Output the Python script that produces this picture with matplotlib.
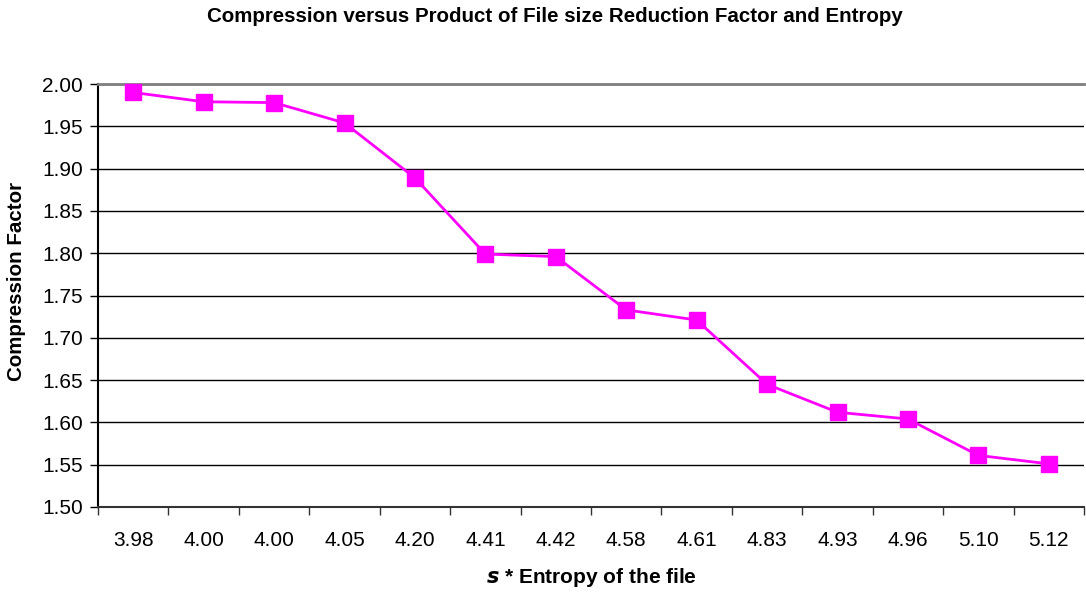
import matplotlib
matplotlib.use("Agg")
import matplotlib.pyplot as plt
from matplotlib.ticker import FixedLocator, FormatStrFormatter

plt.rcParams['font.family'] = ['Liberation Sans', 'DejaVu Sans']

# s * entropy of each file (category labels) and the measured compression factor
entropy_labels = ["3.98", "4.00", "4.00", "4.05", "4.20", "4.41", "4.42",
                  "4.58", "4.61", "4.83", "4.93", "4.96", "5.10", "5.12"]
compression = [1.990, 1.979, 1.978, 1.954, 1.889, 1.799, 1.796,
               1.733, 1.721, 1.645, 1.612, 1.604, 1.561, 1.551]

y_ticks = [1.50, 1.55, 1.60, 1.65, 1.70, 1.75, 1.80, 1.85, 1.90, 1.95, 2.00]

fig = plt.figure(figsize=(10.86, 5.94), dpi=100)
ax = fig.add_axes([98 / 1086, 1 - 507 / 594, (1084 - 98) / 1086, (507 - 84) / 594])

x = list(range(len(compression)))
ax.plot(x, compression, color="#FF00FF", lw=2, marker="s", markersize=11,
        markerfacecolor="#FF00FF", markeredgecolor="#FF00FF", zorder=3, clip_on=False)

ax.set_xlim(-0.5, len(x) - 0.5)
ax.set_ylim(1.50, 2.00)

# horizontal gridlines
ax.set_yticks(y_ticks)
ax.yaxis.set_major_formatter(FormatStrFormatter("%.2f"))
ax.grid(axis="y", color="black", lw=1)
ax.set_axisbelow(True)

# category labels centred, tick marks between categories
ax.set_xticks(x)
ax.set_xticklabels(entropy_labels)
ax.xaxis.set_minor_locator(FixedLocator([i + 0.5 for i in range(-1, len(x))]))
ax.tick_params(axis="x", which="major", length=0, pad=17, labelsize=15)
ax.tick_params(axis="x", which="minor", length=6, width=1, direction="out", color="#333333")
ax.tick_params(axis="y", length=6, width=1, direction="out", pad=5, labelsize=15)

ax.spines["right"].set_visible(False)
ax.spines["top"].set_color("#808080")
ax.spines["top"].set_linewidth(2)
ax.spines["left"].set_color("black")
ax.spines["left"].set_linewidth(1.5)
ax.spines["bottom"].set_color("#333333")
ax.spines["bottom"].set_linewidth(1.5)

ax.set_ylabel("Compression Factor", fontsize=14.8, fontweight="bold")
ax.yaxis.set_label_coords(-0.073, 0.534)
ax.set_xlabel(r"$\bfit{s}$ * Entropy of the file", fontsize=15, fontweight="bold", labelpad=12)
fig.suptitle("Compression versus Product of File size Reduction Factor and Entropy",
             fontsize=14.8, fontweight="bold", x=555 / 1086, y=1 - 16 / 594, va="center")

fig.savefig("out.png", dpi=100)
